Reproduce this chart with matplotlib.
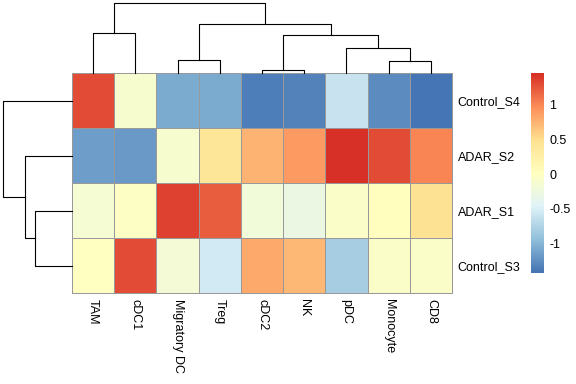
import numpy as np
import matplotlib
matplotlib.use('Agg')
import matplotlib.pyplot as plt
from matplotlib.colors import LinearSegmentedColormap, Normalize
from matplotlib.cm import ScalarMappable

plt.rcParams['font.family'] = ['Liberation Sans', 'DejaVu Sans']
plt.rcParams['axes.unicode_minus'] = False

cells = ['TAM', 'cDC1', 'Migratory DC', 'Treg', 'cDC2', 'NK', 'pDC', 'Monocyte', 'CD8']
samples = ['Control_S4', 'ADAR_S2', 'ADAR_S1', 'Control_S3']

# column z-scores, one list per sample (row), in the order of cells
control_s4 = [1.30, -0.10, -1.05, -1.05, -1.35, -1.32, -0.60, -1.25, -1.42]
adar_s2 = [-1.15, -1.17, -0.12, 0.40, 0.75, 0.88, 1.45, 1.28, 1.00]
adar_s1 = [-0.15, -0.02, 1.35, 1.20, -0.20, -0.28, -0.05, 0.02, 0.47]
control_s3 = [0.00, 1.29, -0.18, -0.55, 0.80, 0.72, -0.80, -0.05, -0.05]

# tree merges: (left, right, height); ids >= n are earlier merges
col_merges = [(4, 5, 0.30), (7, 8, 1.23), (2, 3, 1.27), (6, 10, 2.47),
              (9, 12, 3.77), (0, 1, 3.97), (11, 13, 4.87), (14, 15, 6.97)]
row_merges = [(2, 3, 3.70), (1, 4, 4.70), (0, 5, 6.87)]

z = np.array([control_s4, adar_s2, adar_s1, control_s3])

cmap = LinearSegmentedColormap.from_list(
    'rdylbu_r', ['#4575B4', '#91BFDB', '#E0F3F8', '#FFFFBF', '#FEE090', '#FC8D59', '#D73027'], N=100)
norm = Normalize(vmin=z.min(), vmax=z.max())

W, H = 576, 384
fig = plt.figure(figsize=(5.76, 3.84), dpi=100)


def box(x0, y0, x1, y1):
    # pixel box (top-left origin) -> figure fraction
    return [x0 / W, (H - y1) / H, (x1 - x0) / W, (y1 - y0) / H]


def draw_tree(ax, merges, n, side):
    pos = {i: i + 0.5 for i in range(n)}
    hgt = {i: 0.0 for i in range(n)}
    for k, (a, b, h) in enumerate(merges):
        xa, xb = pos[a], pos[b]
        hs = [hgt[a], h, h, hgt[b]]
        xs = [xa, xa, xb, xb]
        if side == 'top':
            ax.plot(xs, hs, color='black', lw=0.8, clip_on=False)
        else:
            ax.plot(hs, xs, color='black', lw=0.8, clip_on=False)
        pos[n + k] = (xa + xb) / 2
        hgt[n + k] = h


# heatmap
ax = fig.add_axes(box(72, 73, 452, 293))
mesh = ax.pcolormesh(z, cmap=cmap, norm=norm, edgecolors='#999999', linewidth=0.6)
mesh.set_clip_on(False)
ax.set_xlim(0, len(cells))
ax.set_ylim(len(samples), 0)
for s in ax.spines.values():
    s.set_visible(False)
ax.set_xticks(np.arange(len(cells)) + 0.5)
ax.set_xticklabels(cells, rotation=270, ha='center', va='top', fontsize=9)
ax.set_yticks(np.arange(len(samples)) + 0.5)
ax.set_yticklabels(samples, fontsize=9)
ax.yaxis.tick_right()
ax.tick_params(length=0, pad=4)

# column dendrogram
axc = fig.add_axes(box(72, 3.3, 452, 73))
draw_tree(axc, col_merges, len(cells), 'top')
axc.set_xlim(0, len(cells))
axc.set_ylim(0, col_merges[-1][2])
axc.axis('off')

# row dendrogram
axr = fig.add_axes(box(3.3, 73, 72, 293))
draw_tree(axr, row_merges, len(samples), 'left')
axr.set_ylim(len(samples), 0)
axr.set_xlim(row_merges[-1][2], 0)
axr.axis('off')

# legend
cax = fig.add_axes(box(530.7, 73.3, 544, 272.7))
cb = fig.colorbar(ScalarMappable(norm=norm, cmap=cmap), cax=cax, ticks=[-1, -0.5, 0, 0.5, 1])
cb.ax.set_yticklabels(['-1', '-0.5', '0', '0.5', '1'], fontsize=9)
cb.outline.set_visible(False)
cb.ax.tick_params(length=0, pad=4)

fig.savefig('out.png', dpi=100)
